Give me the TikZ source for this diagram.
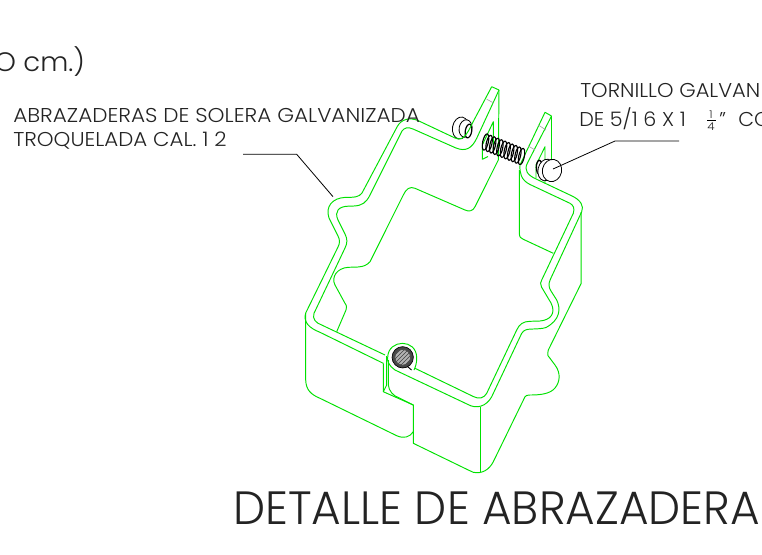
\documentclass[tikz,border=0pt]{standalone}
\usepackage{graphicx}
\usepackage{fontspec}
\usetikzlibrary{patterns}
\setmainfont{Poppins}[UprightFont=* Light]
\definecolor{cadgreen}{RGB}{0,225,0}
\definecolor{cadtext}{RGB}{35,35,35}
\newcommand\fitw[3]{\fontsize{#1}{#1}\selectfont\resizebox{#2pt}{\height}{#3}}
\tikzset{
  band/.style={draw=cadgreen,line width=0.72pt,line join=round},
  fold/.style={draw=black!35,line width=0.5pt},
  leader/.style={draw=black,line width=0.6pt},
  ink/.style={draw=black,line width=0.6pt,fill=white},
  lab/.style={anchor=base west,inner sep=0pt,text=cadtext},
}
\begin{document}
\begin{tikzpicture}[x=0.75pt,y=-0.75pt]
\useasboundingbox (0,0) rectangle (762,554);
\clip (0,0) rectangle (762,554);
% far edge seen through the clamp and back of the left flange
\draw[band] (336.7,331.7) -- (346,310) .. controls (347,306) and (346,304) .. (345,303.3) -- (335,285)
  .. controls (331,277) and (337,268) .. (348.3,267.3) -- (358,267) .. controls (364,266.5) and (367,265) .. (370,261.7)
  -- (403.3,195) .. controls (406,189) and (410,186) .. (415,188.3) -- (465,210)
  .. controls (469,212) and (473,211) .. (475,206.7) -- (498.3,160) -- (499,90);
% bolts behind
\draw[ink,shift={(460.5,128)},rotate=-10] (0,0) ellipse (6pt and 8.3pt);
\draw[ink,shift={(465.5,128.5)},rotate=-10] (0,0) ellipse (4.8pt and 6.6pt);
\draw[ink,line width=0.9pt,shift={(468.5,131)},rotate=-10] (0,0) ellipse (2.4pt and 5.2pt);
% outer edge, left part
\draw[band] (491.7,86.7) -- (473,122) .. controls (466,137) and (462,141) .. (455,138) -- (418.3,120.7)
  .. controls (410,117) and (401,119) .. (397,127) -- (362,193) .. controls (359,197) and (355,197.4) .. (345,197.4)
  .. controls (333,198) and (325,206) .. (329,218) -- (338,236) .. controls (340,240) and (340,243) .. (338,247)
  -- (305.7,313) .. controls (303,322) and (309,328) .. (320,332.3) -- (383.3,363.3);
\draw[band] (491.7,86.7) -- (499,90);
% inner edge, left part
\draw[band] (499,90) -- (476.7,138.3) .. controls (472,148) and (466,152) .. (456,148) -- (413,129)
  .. controls (408,126.5) and (404,128) .. (402,131) -- (370,195) .. controls (366,203) and (362,205.5) .. (354,206)
  -- (348,206.2) .. controls (339,206.5) and (334,211) .. (338,220) -- (345,234) .. controls (347.5,239) and (347.5,243) .. (345,248)
  -- (314,313.3) .. controls (312,319) and (316,323) .. (321.7,325) -- (385,355);
% outer edge, right part, knob
\draw[band] (551.5,116) -- (527.3,163.3) .. controls (524,170) and (527,175) .. (536.7,179.3) -- (571,195.5)
  .. controls (581,200) and (584,206) .. (581.7,211.7) -- (550.5,279) .. controls (548,284) and (549,288) .. (551,291)
  -- (556.7,300) .. controls (561,309) and (560,320) .. (546,327.5) .. controls (542,329) and (536,328.7) .. (528,329.3)
  .. controls (524,330) and (522.5,332) .. (521.7,333.3) -- (491.7,396.7) .. controls (486,407) and (476,409) .. (468,404.5)
  -- (395,370) .. controls (389,366) and (387,361) .. (387.7,357.3) .. controls (388,339) and (417,338) .. (416.7,358.3)
  .. controls (416.7,363) and (415.5,367) .. (414,370);
% inner edge, right part
\draw[band] (415,368.3) -- (473.3,396.5) .. controls (479,399.5) and (484,398) .. (486.7,393.3) -- (516.7,330)
  .. controls (519.5,324) and (523,321.5) .. (530,321.3) -- (540,321) .. controls (551,320) and (556,313) .. (551,303)
  -- (541.5,287) .. controls (540,284) and (540.5,282) .. (541.7,280) -- (573.3,213.3)
  .. controls (575,208) and (573,205) .. (570,203.3) -- (530,184.5) .. controls (521,180) and (519.5,173) .. (520,165)
  -- (545,112.3) -- (551.5,116);
% right flange depth
\draw[band] (519.3,170) -- (519.3,233.3) .. controls (519.5,237) and (520.5,238.3) .. (523.3,239.3) -- (553.3,253.3);
\draw[band] (551.7,116) -- (551.7,160);
\draw[band] (536,178.3) -- (536,165) -- (545,146.7) -- (545,183.3);
% left flange slot
\draw[band] (493.3,151.7) -- (493.3,121.7) -- (482.3,145) -- (482.3,159.3) -- (488,156.5);
% outer silhouette
\draw[band] (581.2,212) -- (581.2,283.3) -- (548.3,350) .. controls (547,355) and (548,357) .. (550,358.3)
  -- (555,365) .. controls (561,373) and (560,382) .. (555,388) .. controls (550,394) and (540,395) .. (530,395)
  .. controls (527,395) and (526,395.5) .. (525,396.7) -- (493.3,461.7) .. controls (489,470) and (482,474) .. (473.3,472.3)
  -- (468.3,470) -- (413.3,443.3) -- (413.3,405) -- (383.3,391.7) -- (383.3,363.3);
\draw[band] (480,406.7) -- (480,472.3);
\draw[band] (305.7,313) -- (305.7,380) .. controls (306,390) and (311,394.5) .. (320,398.3) -- (396.7,435.7)
  .. controls (404,439) and (410,437) .. (413.3,431.7);
\draw[band] (386.7,356) -- (386.7,385) -- (383.3,391.7);
\draw[band] (388.3,360) -- (388.3,385) .. controls (389,391) and (393,396) .. (400,398.3) -- (413.3,405);
% fold marks
\draw[fold] (486.7,99.3) -- (493.3,102.7);
\draw[fold] (538.3,125) -- (546,130);
\draw[fold] (528.3,146) -- (535,150);
% threaded rod: coils
\foreach \t in {0,1,...,10}{
  \pgfmathsetmacro{\cx}{485.5+3.6*\t}
  \pgfmathsetmacro{\cy}{142+1.45*\t}
  \draw[black,line width=0.85pt,shift={(\cx,\cy)},rotate=-12] (0,0) ellipse (2.1pt and 6.2pt);
}
% front bolt
\draw[ink,line width=1pt,shift={(539.3,167.3)}] (0,0) ellipse (2.2pt and 5.2pt);
\draw[ink,shift={(546,170)},rotate=-12] (0,0) ellipse (6pt and 8.2pt);
\draw[ink,shift={(552,170.5)},rotate=-12] (0,0) ellipse (7.2pt and 8.4pt);
% rod section
\fill[black!72] (402.7,357.3) circle (8pt);
\draw[black,line width=0.5pt] (402.7,357.3) circle (8pt);
\draw[black!70,line width=0.4pt,fill=black!30] (402.7,357.3) circle (5.9pt);
\draw[black!70,line width=0.4pt,pattern=north east lines,pattern color=black!75] (402.7,357.3) circle (5.9pt);
\draw[black,line width=0.7pt] (407.5,366.5) -- (411.5,370);
% leaders
\coordinate (leadA1) at (243,154.3);
\coordinate (leadA2) at (296.7,154.3);
\coordinate (leadA3) at (333,196.7);
\coordinate (leadB1) at (679,141);
\coordinate (leadB2) at (615,141);
\coordinate (leadB3) at (553,169);
\draw[leader] (leadA1) -- (leadA2) -- (leadA3);
\draw[leader] (leadB1) -- (leadB2) -- (leadB3);
% texts
\node[lab] (titulo) at (233,524) {\fitw{35}{395}{DETALLE DE ABRAZADERA}};
\node[lab] (escala) at (-6,71) {\fitw{20}{68}{O cm.)}};
\node[lab] (abr1) at (13,122) {\fitw{15}{305}{ABRAZADERAS DE SOLERA GALVANIZADA}};
\node[lab] (abr2) at (13,146) {\fitw{15}{160}{TROQUELADA CAL. 1 2}};
\node[lab] (tor1) at (580,97) {\fitw{15}{135}{TORNILLO GALVAN}};
\node[lab] (tor2) at (579,126) {\fitw{15}{80}{DE 5/1 6 X 1}};
\node[lab] (frac1) at (709,118) {\fitw{8}{2.4}{1}};
\draw[black,line width=0.4pt] (707,120.5) -- (716,120.5);
\node[lab] (frac2) at (707,130) {\fitw{8}{5.5}{4}};
\node[lab] (tor3) at (719,126) {\fitw{15}{5}{"}};
\node[lab] (tor4) at (738,126) {\fitw{15}{24}{CO}};
\end{tikzpicture}
\end{document}
